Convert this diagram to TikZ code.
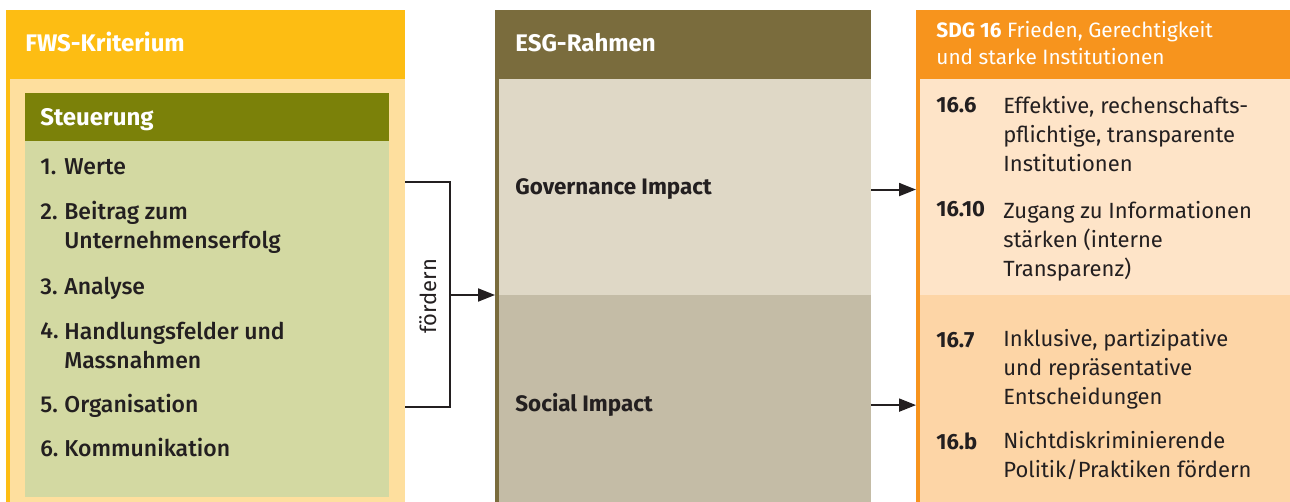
\documentclass[tikz,border=0pt]{standalone}
\usepackage{fontspec}
\setmainfont{Fira Sans}
\newfontfamily\mittel{Fira Sans Medium}
\usetikzlibrary{arrows.meta}
\usetikzlibrary{positioning}
\definecolor{fwsgelb}{HTML}{FDBD13}
\definecolor{fwshell}{HTML}{FEDF9E}
\definecolor{steuerolive}{HTML}{7B8109}
\definecolor{steuergruen}{HTML}{D3D9A2}
\definecolor{esgbraun}{HTML}{7A6C3D}
\definecolor{govbeige}{HTML}{DFD8C6}
\definecolor{socbeige}{HTML}{C4BCA6}
\definecolor{sdgorange}{HTML}{F7941D}
\definecolor{sdghell}{HTML}{FEE4C8}
\definecolor{sdgpfirsich}{HTML}{FDD5A6}
\definecolor{textgrau}{HTML}{231F20}
\begin{document}
\begin{tikzpicture}[line cap=butt,line join=miter,x=0.5pt,y=-0.5pt,
  box/.style={anchor=north west, inner sep=0pt, outer sep=0pt, fill=#1},
  kopf/.style={anchor=base west, inner sep=0pt, text=white, font=\bfseries\fontsize{12}{14.5}\selectfont},
  eintrag/.style={anchor=base west, inner sep=0pt, text=textgrau, align=left, font=\mittel\fontsize{11.5}{14.5}\selectfont},
  fett/.style={eintrag, font=\bfseries\fontsize{11.2}{14.5}\selectfont},
  ziel/.style={anchor=base west, inner sep=0pt, text=textgrau, align=left, font=\fontsize{11}{14.5}\selectfont},
  zielnr/.style={ziel, font=\bfseries\fontsize{11}{14.5}\selectfont},
  verbinder/.style={draw=textgrau, line width=1pt},
  pfeil/.style={verbinder, -{Triangle[length=8.5pt, width=6.5pt]}}]
\useasboundingbox (0,0) rectangle (1290,502);
% FWS-Kriterium
\node[box=fwsgelb, minimum width=199.5pt, minimum height=246pt] (fws) at (6,10) {};
\node[box=fwshell, minimum width=197.5pt, minimum height=211.5pt] (fwsbody) at (10,79) {};
\node[box=steuerolive, minimum width=182pt, minimum height=24pt] (steuer) at (25,93) {};
\node[box=steuergruen, minimum width=182pt, minimum height=178pt] (steuerliste) at (25,141) {};
% ESG-Rahmen
\node[box=esgbraun, minimum width=188pt, minimum height=246pt] (esg) at (495,10) {};
\node[box=govbeige, minimum width=186pt, minimum height=108pt] (gov) at (499,79) {};
\node[box=socbeige, minimum width=186pt, minimum height=103.5pt] (soc) at (499,295) {};
% SDG 16
\node[box=sdgorange, minimum width=187pt, minimum height=246pt] (sdg) at (916,10) {};
\node[box=sdghell, minimum width=185pt, minimum height=108pt] (sdgoben) at (920,79) {};
\node[box=sdgpfirsich, minimum width=185pt, minimum height=103.5pt] (sdgunten) at (920,295) {};

% Texte links (mehrzeilige Knoten: Grundlinie der letzten Zeile)
\node[kopf] (fwstitel) at (25,52) {FWS-Kriterium};
\node[kopf] (steuertitel) at (40,126) {Steuerung};
\node[eintrag] (n1) at (40,175) {1.};
\node[eintrag] (t1) at (64,175) {Werte};
\node[eintrag] (n2) at (40,220) {2.};
\node[eintrag] (t2) at (64,249) {Beitrag zum\\Unternehmenserfolg};
\node[eintrag] (n3) at (40,294) {3.};
\node[eintrag] (t3) at (64,294) {Analyse};
\node[eintrag] (n4) at (40,338) {4.};
\node[eintrag] (t4) at (64,368) {Handlungsfelder und\\Massnahmen};
\node[eintrag] (n5) at (40,412) {5.};
\node[eintrag] (t5) at (64,412) {Organisation};
\node[eintrag] (n6) at (40,456) {6.};
\node[eintrag] (t6) at (64,456) {Kommunikation};

% Texte Mitte
\node[kopf] (esgtitel) at (515,52) {ESG-Rahmen};
\node[fett] (govtext) at (515,195) {Governance Impact};
\node[fett] (soctext) at (515,411.7) {Social Impact};

% Texte rechts
\node[kopf, align=left, font=\fontsize{10.4}{13.5}\selectfont] (sdgtitel) at (936,65) {\textbf{SDG 16} Frieden, Gerechtigkeit\\und starke Institutionen};
\node[zielnr] (z1) at (936,113) {16.6};
\node[ziel] (y1) at (1003,171.7) {Effektive, rechenschafts-\\pflichtige, transparente\\Institutionen};
\node[zielnr] (z2) at (936,217) {16.10};
\node[ziel] (y2) at (1003,276.7) {Zugang zu Informationen\\stärken (interne\\Transparenz)};
\node[zielnr] (z3) at (936,347) {16.7};
\node[ziel] (y3) at (1003,404.3) {Inklusive, partizipative\\und repräsentative\\Entscheidungen};
\node[zielnr] (z4) at (936,449) {16.b};
\node[ziel] (y4) at (1003,477.7) {Nichtdiskriminierende\\Politik/Praktiken fördern};

% Verbinder
\coordinate (klammeroben) at (405,182);
\coordinate (klammerunten) at (405,407);
\coordinate (klammer) at (450,295);
\draw[verbinder] (klammeroben) -| (klammer) |- (klammerunten);
\draw[pfeil] (klammer) -- (klammer -| esg.west);
\node[ziel, rotate=90, anchor=base] (foerdern) at (436,296) {fördern};
\draw[pfeil] (gov.east |- govtext) -- (sdg.west |- govtext);
\draw[pfeil] (soc.east |- soctext) -- (sdg.west |- soctext);
\end{tikzpicture}
\end{document}
